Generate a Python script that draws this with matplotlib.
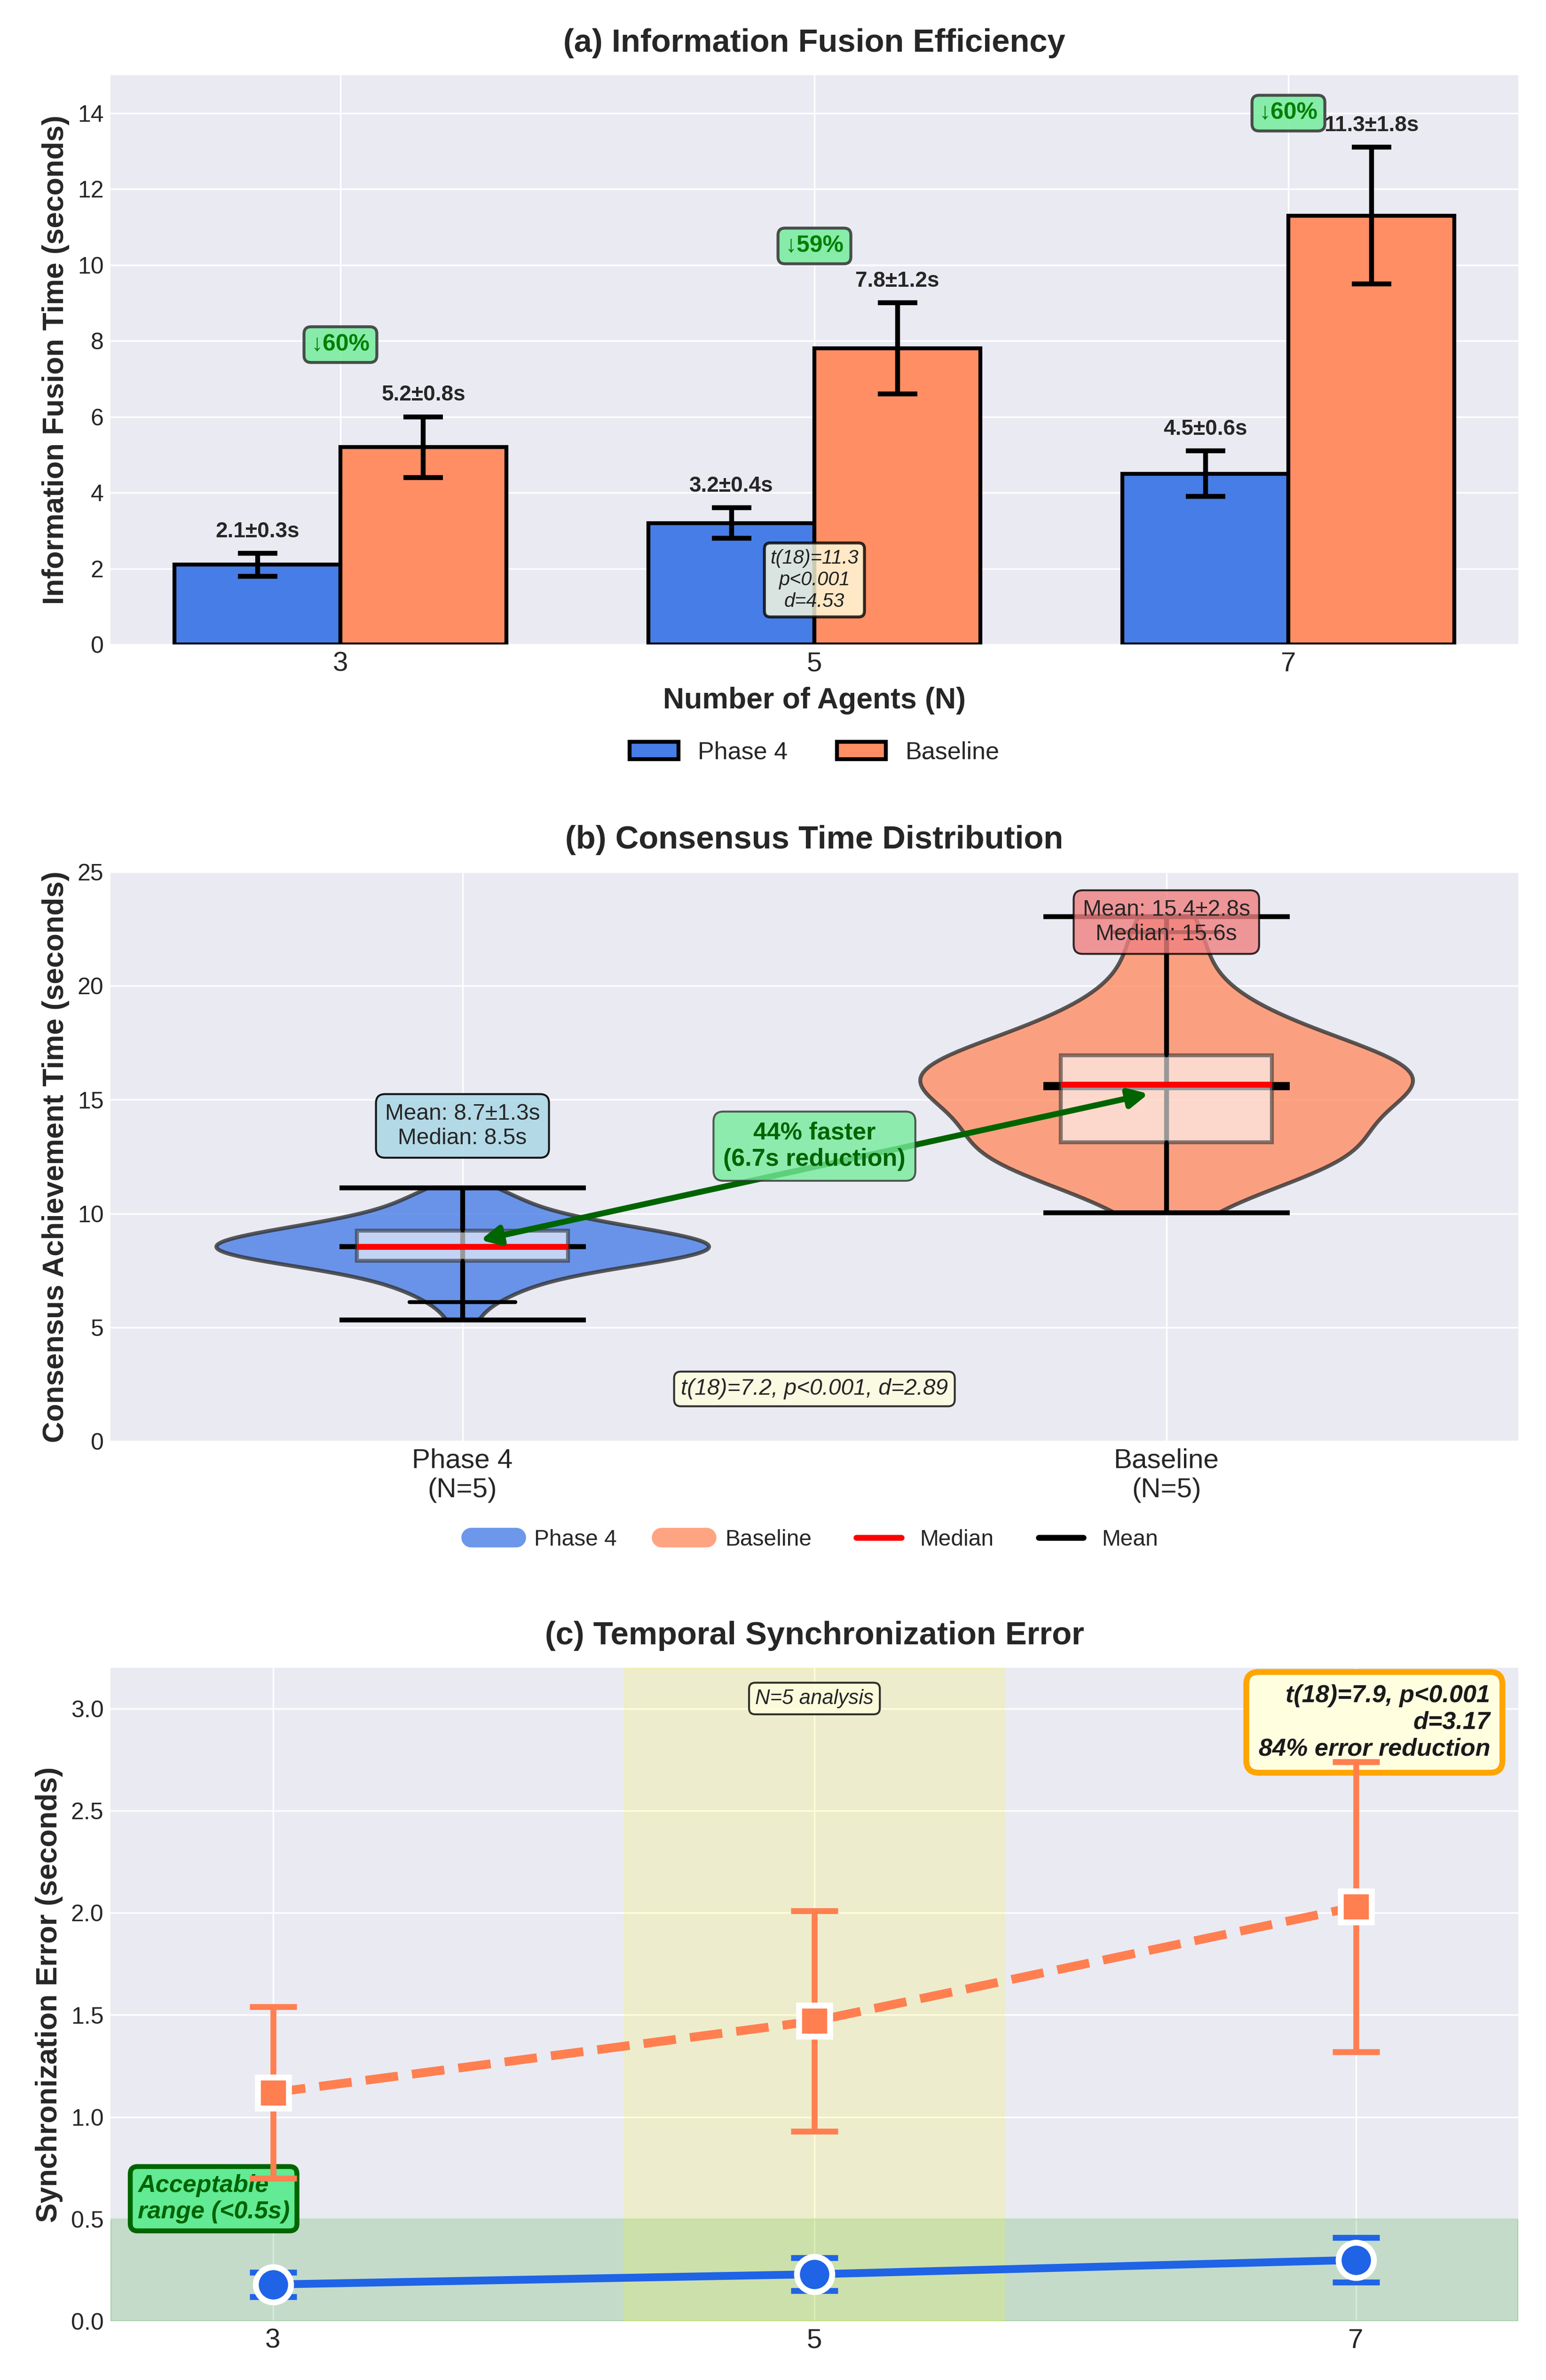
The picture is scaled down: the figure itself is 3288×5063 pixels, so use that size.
import matplotlib
matplotlib.use('Agg')
import matplotlib.pyplot as plt
import numpy as np
from matplotlib.lines import Line2D

plt.style.use('seaborn-v0_8-darkgrid')
plt.rcParams['font.family'] = ['Liberation Sans', 'DejaVu Sans']

# (a) information fusion time
agents = [3, 5, 7]
p4_fusion = [2.1, 3.2, 4.5]
p4_fusion_sd = [0.3, 0.4, 0.6]
base_fusion = [5.2, 7.8, 11.3]
base_fusion_sd = [0.8, 1.2, 1.8]
pct_label_y = [7.9, 10.5, 14.0]

# (b) consensus times (per trial)
p4_consensus = [5.33, 6.11, 6.45, 6.7, 6.9, 7.1, 7.3, 7.45, 7.55, 7.65, 7.75, 7.82, 7.9, 7.98,
                8.03, 8.08, 8.14, 8.2, 8.26, 8.31, 8.36, 8.41, 8.45, 8.49,
                8.53, 8.57, 8.62, 8.67, 8.72, 8.77, 8.82, 8.87, 8.92, 8.97,
                9.05, 9.12, 9.2, 9.26, 9.33, 9.4, 9.47, 9.58, 9.7, 9.82, 9.95,
                10.15, 10.4, 10.62, 10.85, 11.12]
base_consensus = [10.03, 11.1, 11.45, 11.7, 11.9, 12.05, 12.25, 12.45, 12.62, 12.77, 12.9, 13.05, 13.12, 13.2,
                  13.45, 13.7, 13.95, 14.2, 14.45, 14.7, 14.95, 15.15, 15.35, 15.5, 15.62, 15.72,
                  15.82, 15.92, 16.0, 16.08, 16.15, 16.22, 16.3, 16.4, 16.52, 16.66, 16.88, 16.96,
                  17.3, 17.6, 17.85, 18.05, 18.3, 18.6, 19.0, 19.5, 20.3, 21.3, 22.35, 23.03]
groups = ['Phase 4\n(N=5)', 'Baseline\n(N=5)']
cons_mean = [8.7, 15.4]
cons_sd = [1.3, 2.8]
cons_median = [8.5, 15.6]

# (c) synchronization error
p4_sync = [0.18, 0.23, 0.30]
p4_sync_sd = [0.06, 0.08, 0.11]
base_sync = [1.12, 1.47, 2.03]
base_sync_sd = [0.42, 0.54, 0.71]

BLUE = '#477DE6'
ORANGE = '#FF8E64'
BLUE2 = '#1F63E6'
CORAL = '#FF7F50'

fig = plt.figure(figsize=(10.96, 16.877), dpi=300)
ax1 = fig.add_axes([0.0715, 0.7292, 0.9106, 0.2392])
ax2 = fig.add_axes([0.0715, 0.3944, 0.9106, 0.2392])
ax3 = fig.add_axes([0.0715, 0.0247, 0.9106, 0.2745])

# ---- panel a
x = np.arange(len(agents))
w = 0.35
ekw = dict(elinewidth=2.5, capthick=2.5, ecolor='black')
ax1.bar(x - w/2, p4_fusion, w, yerr=p4_fusion_sd, capsize=10, color=BLUE,
        edgecolor='black', linewidth=2, label='Phase 4', error_kw=ekw)
ax1.bar(x + w/2, base_fusion, w, yerr=base_fusion_sd, capsize=10, color=ORANGE,
        edgecolor='black', linewidth=2, label='Baseline', error_kw=ekw)
for i in range(len(agents)):
    ax1.text(x[i] - w/2, p4_fusion[i] + p4_fusion_sd[i] + 0.3,
             f'{p4_fusion[i]}±{p4_fusion_sd[i]}s', ha='center', va='bottom',
             fontsize=11, fontweight='bold')
    ax1.text(x[i] + w/2, base_fusion[i] + base_fusion_sd[i] + 0.3,
             f'{base_fusion[i]}±{base_fusion_sd[i]}s', ha='center', va='bottom',
             fontsize=11, fontweight='bold')
    red = (base_fusion[i] - p4_fusion[i]) / base_fusion[i] * 100
    ax1.text(x[i], pct_label_y[i], f'↓{red:.0f}%', ha='center', va='center',
             fontsize=12, fontweight='bold', color='green',
             bbox=dict(boxstyle='round,pad=0.3', facecolor='#76EC9C',
                       edgecolor='#333333', alpha=0.85, linewidth=1.5))
ax1.text(1, 1.7, 't(18)=11.3\np<0.001\nd=4.53', ha='center', va='center',
         fontsize=10, style='italic', color='#222222',
         bbox=dict(boxstyle='round,pad=0.3', facecolor='lightyellow',
                   edgecolor='black', alpha=0.8, linewidth=1.5))
ax1.set_xticks(x)
ax1.set_xticklabels(agents)
ax1.set_ylim(0, 15)
ax1.set_xlabel('Number of Agents (N)', fontsize=15, fontweight='bold', labelpad=5)
ax1.set_ylabel('Information Fusion Time (seconds)', fontsize=15, fontweight='bold')
ax1.set_title('(a) Information Fusion Efficiency', fontsize=16.5, fontweight='bold', pad=12)
ax1.tick_params(axis='y', labelsize=12)
ax1.tick_params(axis='x', labelsize=14)
ax1.legend(loc='center', bbox_to_anchor=(0.5, -0.19), ncol=2, frameon=False, fontsize=12.5)

# ---- panel b
parts = ax2.violinplot([p4_consensus, base_consensus], positions=[0, 1], widths=0.7,
                       showmeans=True, showmedians=True, showextrema=True)
for body, c in zip(parts['bodies'], [BLUE, ORANGE]):
    body.set_facecolor(c)
    body.set_edgecolor('#333333')
    body.set_linewidth(2)
    body.set_alpha(0.8)
for k in ['cmaxes', 'cmins', 'cbars', 'cmeans', 'cmedians']:
    parts[k].set_color('black')
    parts[k].set_linewidth(2.5)
ax2.boxplot([p4_consensus, base_consensus], positions=[0, 1], widths=0.3,
            patch_artist=True, showfliers=False,
            medianprops=dict(color='red', linewidth=3),
            whiskerprops=dict(color='black', linewidth=2),
            capprops=dict(color='black', linewidth=2),
            boxprops=dict(facecolor='white', edgecolor='#333333', linewidth=2, alpha=0.6))
ax2.text(0, 13.85, f'Mean: {cons_mean[0]}±{cons_sd[0]}s\nMedian: {cons_median[0]}s',
         ha='center', va='center', fontsize=11.5,
         bbox=dict(boxstyle='round,pad=0.4', facecolor='lightblue', edgecolor='black', alpha=0.9))
ax2.text(1, 22.8, f'Mean: {cons_mean[1]}±{cons_sd[1]}s\nMedian: {cons_median[1]}s',
         ha='center', va='center', fontsize=11.5,
         bbox=dict(boxstyle='round,pad=0.4', facecolor='lightcoral', edgecolor='black', alpha=0.8))
ax2.annotate('', xy=(0.98, 15.3), xytext=(0.02, 8.8),
             arrowprops=dict(arrowstyle='<|-|>', color='darkgreen', lw=3, mutation_scale=20))
faster = (cons_mean[1] - cons_mean[0]) / cons_mean[1] * 100
ax2.text(0.5, 12.96, f'{faster:.0f}% faster\n({cons_mean[1] - cons_mean[0]:.1f}s reduction)',
         ha='center', va='center', fontsize=12.5, fontweight='bold', color='darkgreen',
         bbox=dict(boxstyle='round,pad=0.4', facecolor='#76EC9C', edgecolor='#333333', alpha=0.8))
ax2.text(0.5, 2.3, 't(18)=7.2, p<0.001, d=2.89', ha='center', va='center',
         fontsize=11.5, style='italic',
         bbox=dict(boxstyle='round,pad=0.3', facecolor='lightyellow', edgecolor='black', alpha=0.8))
ax2.set_xticks([0, 1])
ax2.set_xticklabels(groups, fontsize=14)
ax2.set_xlim(-0.5, 1.5)
ax2.set_ylim(0, 25)
ax2.tick_params(axis='y', labelsize=12)
ax2.set_ylabel('Consensus Achievement Time (seconds)', fontsize=15, fontweight='bold')
ax2.set_title('(b) Consensus Time Distribution', fontsize=16.5, fontweight='bold', pad=12)
handles = [Line2D([0], [0], color=BLUE, alpha=0.8, lw=10, solid_capstyle='round'),
           Line2D([0], [0], color=ORANGE, alpha=0.8, lw=10, solid_capstyle='round'),
           Line2D([0], [0], color='red', lw=3),
           Line2D([0], [0], color='black', lw=3)]
ax2.legend(handles, ['Phase 4', 'Baseline', 'Median', 'Mean'], loc='center',
           bbox_to_anchor=(0.5, -0.173), ncol=4, frameon=False, fontsize=11.5)

# ---- panel c
ax3.axhspan(0, 0.5, color='#2ca02c', alpha=0.2)
ax3.axvspan(4.3, 5.7, color='yellow', alpha=0.15)
ax3.errorbar(agents, p4_sync, yerr=p4_sync_sd, fmt='-o', color=BLUE2, lw=4, ms=18,
             mec='white', mew=3, capsize=12, capthick=3, elinewidth=3, zorder=5)
ax3.errorbar(agents, base_sync, yerr=base_sync_sd, fmt='--s', color=CORAL, lw=4.5, ms=16,
             mec='white', mew=3, capsize=12, capthick=3, elinewidth=3, zorder=5)
ax3.text(5, 3.05, 'N=5 analysis', ha='center', va='center', fontsize=10.5, style='italic',
         bbox=dict(boxstyle='round,pad=0.3', facecolor='lightyellow', edgecolor='black', alpha=0.8))
ax3.text(0.98, 0.975, 't(18)=7.9, p<0.001\nd=3.17\n84% error reduction',
         transform=ax3.transAxes, ha='right', va='top', multialignment='right',
         fontsize=12.5, fontweight='bold', style='italic', color='#1a1a1a', zorder=3,
         bbox=dict(boxstyle='round,pad=0.5', facecolor='lightyellow', edgecolor='orange', linewidth=3))
ax3.text(2.5, 0.6, 'Acceptable\nrange (<0.5s)', ha='left', va='center', fontsize=12.5,
         fontweight='bold', style='italic', color='darkgreen', zorder=3,
         bbox=dict(boxstyle='round,pad=0.3', facecolor='#62EA94', edgecolor='darkgreen', linewidth=2.5))
ax3.set_xticks(agents)
ax3.set_xlim(2.4, 7.6)
ax3.set_ylim(0, 3.2)
ax3.tick_params(axis='y', labelsize=12)
ax3.tick_params(axis='x', labelsize=14)
ax3.set_ylabel('Synchronization Error (seconds)', fontsize=15, fontweight='bold')
ax3.set_title('(c) Temporal Synchronization Error', fontsize=16.5, fontweight='bold', pad=12)

fig.savefig('out.png', dpi=300)
